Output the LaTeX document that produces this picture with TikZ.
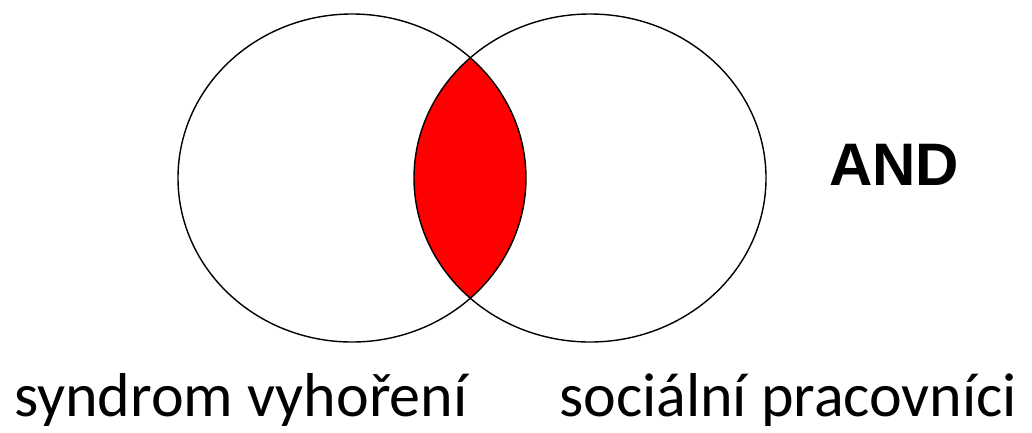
\documentclass[tikz,border=0pt]{standalone}
\usepackage{fontspec}
\newfontfamily\labelfont{Carlito}
\newfontfamily\andfont{Liberation Sans}
\begin{document}
\begin{tikzpicture}[x=1pt,y=-1pt,
  setline/.style={draw=black,line width=1.4pt},
  setlabel/.style={anchor=base west,inner sep=0pt,font=\labelfont\fontsize{62}{62}\selectfont},
  oplabel/.style={anchor=base west,inner sep=0pt,font=\andfont\bfseries\fontsize{60}{60}\selectfont}]
\useasboundingbox (0,0) rectangle (1032,432);
\fill[white] (0,0) rectangle (1032,432);
% intersection
\begin{scope}
  \clip (352,178) ellipse [x radius=174, y radius=164];
  \fill[red] (590,178) ellipse [x radius=176, y radius=164];
\end{scope}
\draw[setline] (352,178) ellipse [x radius=174, y radius=164];
\draw[setline] (590,178) ellipse [x radius=176, y radius=164];
\node[oplabel] (and) at (829,185) {AND};
\node[setlabel] (a) at (14,416) {syndrom vyhoření};
\node[setlabel] (b) at (559,416) {sociální pracovníci};
\end{tikzpicture}
\end{document}
